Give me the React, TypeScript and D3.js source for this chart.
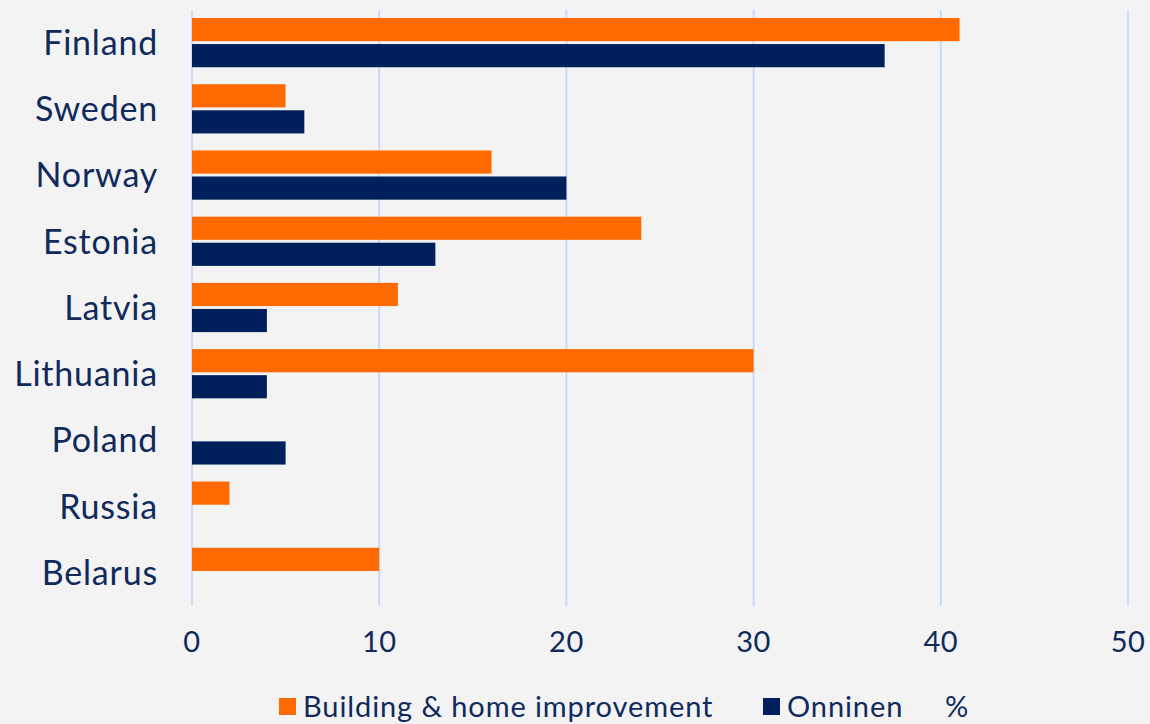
import React, { useEffect, useRef } from 'react';
import * as d3 from 'd3';

const countries = ['Finland', 'Sweden', 'Norway', 'Estonia', 'Latvia', 'Lithuania', 'Poland', 'Russia', 'Belarus'];
const buildingValues = [41, 5, 16, 24, 11, 30, 0, 2, 10];
const onninenValues = [37, 6, 20, 13, 4, 4, 5, 0, 0];
const xTicks = [0, 10, 20, 30, 40, 50];
const seriesNames = ['Building & home improvement', 'Onninen'];

const ORANGE = '#ff6a00';
const NAVY = '#00205b';
const TEXT = '#102a5c';
const GRID = '#c8dbf7';
const FONT = 'Lato, "Open Sans", sans-serif';

export default function App() {
  const ref = useRef<SVGSVGElement>(null);

  useEffect(() => {
    const width = 1150, height = 724;
    const margin = { top: 10, right: 22, bottom: 118, left: 192 };

    const svg = d3.select(ref.current);
    svg.selectAll('*').remove();

    svg.append('rect').attr('width', width).attr('height', height).attr('fill', '#f3f3f3');

    const x = d3.scaleLinear().domain([0, 50]).range([margin.left, width - margin.right]);
    const y = d3.scaleBand().domain(countries).range([margin.top, height - margin.bottom]).paddingInner(0).paddingOuter(0);
    const inner = d3.scaleBand().domain(['b', 'o']).range([8, y.bandwidth() - 9]).paddingInner(0.11);

    // vertical grid
    svg.append('g')
      .selectAll('line')
      .data(xTicks)
      .enter()
      .append('line')
      .attr('x1', d => x(d)).attr('x2', d => x(d))
      .attr('y1', margin.top).attr('y2', height - margin.bottom)
      .attr('stroke', GRID).attr('stroke-width', 2);

    // tick labels
    svg.append('g')
      .selectAll('text')
      .data(xTicks)
      .enter()
      .append('text')
      .attr('x', d => x(d))
      .attr('y', 652)
      .attr('text-anchor', 'middle')
      .style('font-family', FONT)
      .style('font-size', '29px')
      .style('letter-spacing', '0.5px')
      .attr('fill', TEXT)
      .text(d => String(d));

    // country labels
    svg.append('g')
      .selectAll('text')
      .data(countries)
      .enter()
      .append('text')
      .attr('x', 158)
      .attr('y', d => (y(d) as number) + y.bandwidth() / 2)
      .attr('dy', '0.35em')
      .attr('text-anchor', 'end')
      .style('font-family', FONT)
      .style('font-size', '34px')
      .style('letter-spacing', '0.8px')
      .attr('fill', TEXT)
      .text(d => d);

    const series = [
      { key: 'b', values: buildingValues, color: ORANGE },
      { key: 'o', values: onninenValues, color: NAVY },
    ];

    series.forEach(s => {
      svg.append('g')
        .selectAll('rect')
        .data(countries.map((c, i) => ({ c, v: s.values[i] })).filter(d => d.v > 0))
        .enter()
        .append('rect')
        .attr('x', x(0))
        .attr('y', d => (y(d.c) as number) + (inner(s.key) as number))
        .attr('width', d => x(d.v) - x(0))
        .attr('height', inner.bandwidth())
        .attr('fill', s.color);
    });

    // legend
    const legend = svg.append('g');
    const items = [
      { name: seriesNames[0], color: ORANGE, x: 279 },
      { name: seriesNames[1], color: NAVY, x: 763 },
    ];
    items.forEach(it => {
      legend.append('rect').attr('x', it.x).attr('y', 698).attr('width', 17).attr('height', 17).attr('fill', it.color);
      legend.append('text')
        .attr('x', it.x + 24)
        .attr('y', 717)
        .style('font-family', FONT)
        .style('font-size', '29px')
        .style('letter-spacing', '0.9px')
        .attr('fill', TEXT)
        .text(it.name);
    });
    legend.append('text')
      .attr('x', 945)
      .attr('y', 717)
      .style('font-family', FONT)
      .style('font-size', '29px')
      .attr('fill', TEXT)
      .text('%');
  }, []);

  return (
    <svg ref={ref} width={1150} height={724} style={{ position: 'absolute', left: 0, top: 0, display: 'block' }} />
  );
}
